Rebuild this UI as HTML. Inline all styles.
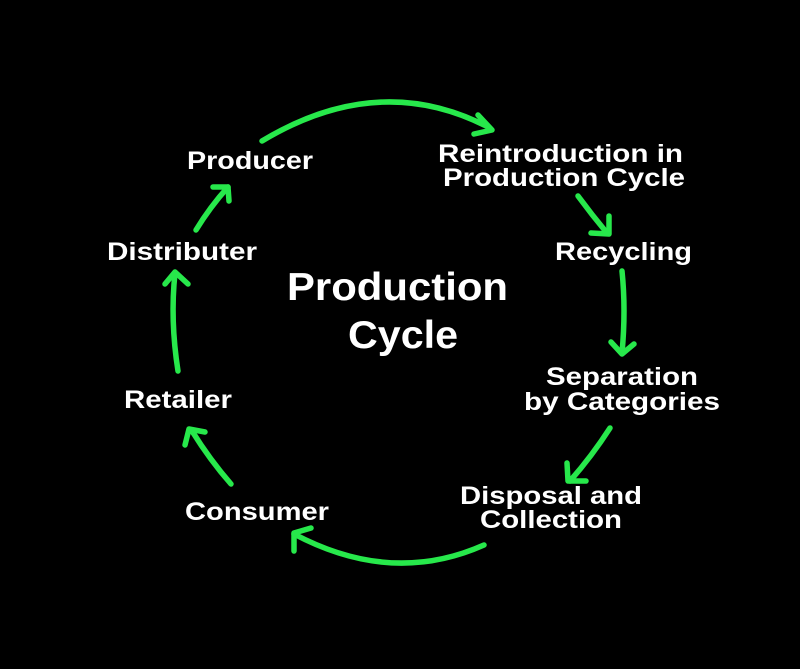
<!DOCTYPE html>
<html><head><meta charset="utf-8"><style>
html,body{margin:0;padding:0;background:#000;}
svg{display:block}
text{font-family:"Liberation Sans",Arial,sans-serif;font-weight:bold;fill:#fff;}
</style></head><body>
<svg width="800" height="669" viewBox="0 0 800 669" xmlns="http://www.w3.org/2000/svg">
<rect width="800" height="669" fill="#000"/>
<g fill="none" stroke="#27e84b" stroke-width="5.5" stroke-linecap="round" stroke-linejoin="round">
<path d="M262,141 Q380,70 490,128"/><path d="M478,115 L492,130 L474,134"/>
<path d="M578,196 Q592,215 607,233"/><path d="M609,216 L609,234 L591,233"/>
<path d="M622,271 Q626,310 622,353"/><path d="M611,342 L622,354 L634,344"/>
<path d="M610,428 Q592,456 570,481"/><path d="M567,463 L568,481 L586,481"/>
<path d="M484,545 Q392,586 294,534"/><path d="M294,551 L294,533 L311,528"/>
<path d="M231,484 Q210,460 192,431"/><path d="M185,445 L189,429 L205,432"/>
<path d="M178,371 Q170,320 175,273"/><path d="M165,284 L175,272 L188,284"/>
<path d="M196,230 Q210,207 228,187"/><path d="M213,187 L228,187 L229,201"/>
</g>
<g font-size="25">
<text x="187" y="169" textLength="126" lengthAdjust="spacingAndGlyphs">Producer</text>
<text x="438" y="162" textLength="245" lengthAdjust="spacingAndGlyphs">Reintroduction in</text>
<text x="443" y="186" textLength="242" lengthAdjust="spacingAndGlyphs">Production Cycle</text>
<text x="555" y="260" textLength="137" lengthAdjust="spacingAndGlyphs">Recycling</text>
<text x="546" y="385" textLength="152" lengthAdjust="spacingAndGlyphs">Separation</text>
<text x="524" y="410" textLength="196" lengthAdjust="spacingAndGlyphs">by Categories</text>
<text x="460" y="504" textLength="182" lengthAdjust="spacingAndGlyphs">Disposal and</text>
<text x="480" y="528" textLength="142" lengthAdjust="spacingAndGlyphs">Collection</text>
<text x="185" y="520" textLength="144" lengthAdjust="spacingAndGlyphs">Consumer</text>
<text x="124" y="408" textLength="108" lengthAdjust="spacingAndGlyphs">Retailer</text>
<text x="107" y="260" textLength="150" lengthAdjust="spacingAndGlyphs">Distributer</text>
</g>
<text x="287" y="300" font-size="39" textLength="221" lengthAdjust="spacingAndGlyphs">Production</text>
<text x="348" y="348" font-size="39" textLength="110" lengthAdjust="spacingAndGlyphs">Cycle</text>
</svg>
</body></html>
